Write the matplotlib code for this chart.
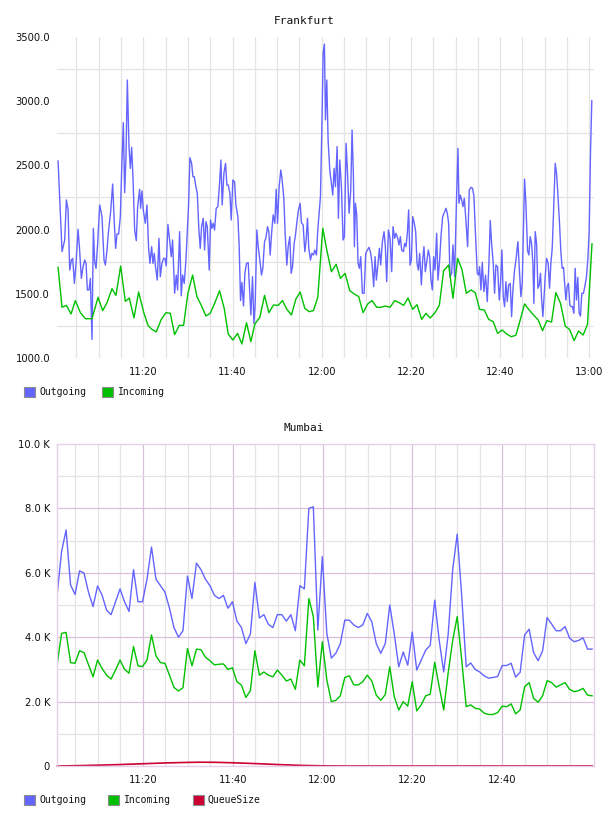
import numpy as np
import matplotlib
matplotlib.use("Agg")
import matplotlib.pyplot as plt
from matplotlib.patches import Rectangle

# Frankfurt: time in minutes after 11:00, values in bytes/s
fra_out_t = [0.89, 1.78, 2.38, 2.75, 3.13, 3.50, 3.87, 4.17, 4.55, 4.92, 5.37, 5.67, 6.11, 6.49,
             6.86, 7.16, 7.46, 7.83, 8.13, 8.50, 8.80, 9.10, 9.40, 9.77, 10.22, 10.74, 11.19,
             11.49, 11.86, 12.16, 12.68, 13.13, 13.50, 13.80, 14.10, 14.47, 14.85, 15.15, 15.52,
             15.82, 16.12, 16.42, 16.79, 17.09, 17.39, 17.68, 18.06, 18.43, 18.73, 19.18, 19.40,
             19.70, 20.00, 20.45, 20.82, 21.19, 21.49, 21.87, 22.16, 22.46, 22.69, 23.13, 23.51,
             23.81, 24.18, 24.55, 24.85, 25.15, 25.52, 25.90, 26.27, 26.57, 27.02, 27.39, 27.69,
             28.14, 28.51, 28.81, 29.18, 29.56, 30.15, 30.45, 30.83,
             31.13, 31.42, 31.80, 32.10, 32.47, 32.77, 33.07, 33.44, 33.74, 34.04, 34.34, 34.78,
             35.08, 35.38, 35.68, 35.98, 36.35, 36.72, 37.10, 37.40, 37.69, 38.07, 38.44, 38.74,
             39.04, 39.41, 39.71, 40.08, 40.46, 40.76, 41.20, 41.50, 41.80, 42.10, 42.47, 42.77,
             43.14, 43.52, 43.82, 44.12, 44.49, 44.79, 45.09, 45.46, 45.76, 46.13, 46.50, 46.80,
             47.18, 47.47, 47.85, 48.15, 48.44, 48.82, 49.12, 49.49, 49.79, 50.09, 50.46, 50.83,
             51.13, 51.51, 51.80, 52.18, 52.48, 52.85, 53.15, 53.45, 53.82, 54.12, 54.49, 54.79,
             55.16, 55.46, 55.84, 56.21, 56.51, 56.81, 57.10, 57.48, 57.78, 58.15, 58.45, 58.82,
             59.12, 59.42, 59.72, 60.02, 60.32, 60.61,
             60.84, 61.14, 61.43, 61.81, 62.18, 62.48, 62.78, 63.08, 63.45, 63.75, 64.05, 64.42,
             64.79, 65.09, 65.47, 65.76, 66.14, 66.51, 66.81, 67.11, 67.33, 67.56, 67.85, 68.15,
             68.45, 68.75, 69.12, 69.50, 69.87, 70.24, 70.62, 70.99, 71.29, 71.66, 71.96, 72.26,
             72.63, 72.93, 73.23, 73.60, 73.98, 74.27, 74.57, 74.95, 75.32, 75.69, 75.99, 76.36,
             76.66, 77.04, 77.34, 77.63, 77.93, 78.31, 78.60, 78.90, 79.20, 79.50, 79.80, 80.10,
             80.40, 80.69, 81.07, 81.37, 81.67, 81.96, 82.34, 82.64, 82.93, 83.23, 83.61, 83.90,
             84.20, 84.50, 84.80, 85.10, 85.40, 85.77, 86.07, 86.44, 86.74, 87.11, 87.49, 87.86,
             88.16, 88.46, 88.76, 89.13, 89.43, 89.80, 90.18, 90.55,
             90.77, 91.07, 91.37, 91.67, 91.97, 92.27, 92.71, 93.09, 93.46, 93.83, 94.13, 94.50,
             94.88, 95.18, 95.40, 95.70, 96.00, 96.37, 96.74, 97.12, 97.49, 97.79, 98.09, 98.46,
             98.76, 99.06, 99.43, 99.81, 100.10, 100.40, 100.70, 101.00, 101.30, 101.60, 101.90,
             102.27, 102.57, 102.87, 103.24, 103.61, 103.99, 104.28, 104.66, 104.96, 105.25,
             105.48, 105.78, 106.15, 106.45, 106.75, 107.05, 107.35, 107.57, 107.87, 108.17,
             108.47, 108.76, 109.06, 109.29, 109.59, 109.88, 110.11, 110.41, 110.78, 111.08,
             111.38, 111.68, 111.97, 112.35, 112.65, 112.94, 113.32, 113.62, 113.91, 114.21,
             114.51, 114.74, 115.03, 115.33, 115.63, 115.93, 116.23, 116.53, 116.83, 117.12,
             117.42, 117.72, 118.02, 118.32, 118.69, 118.99, 119.36, 119.66, 119.96, 120.26, 120.56]
fra_out = [2534, 1828, 1919, 2231, 2153, 1685, 1763, 1776, 1581, 1737, 2002, 1867, 1620, 1711,
           1763, 1737, 1530, 1530, 1620, 1145, 2010, 1750, 1698, 1893, 2192, 2101, 1763,
           1724, 1841, 1971, 2140, 2355, 2049, 1854, 1966, 1966, 2101, 2464, 2833,
           2288, 2568, 3165, 2646, 2477, 2641, 2412, 1997, 1914, 2179, 2314, 2166,
           2301, 2153, 2049, 2192, 1854, 1737, 1867, 1737, 1815, 1724, 1607, 1932,
           1633, 1737, 1776, 1776, 1717, 2041, 1919, 1789, 1919, 1504, 1646, 1530,
           1984, 1485, 1646, 1581, 1763, 2192, 2560, 2516,
           2412, 2412, 2334, 2282, 1997, 1854, 2023, 2088, 1841, 2062, 2023, 1685,
           2075, 2010, 2049, 1997, 2166, 2179, 2360, 2542, 2192, 2438, 2516, 2347,
           2347, 2282, 2075, 2386, 2373, 2192, 2101, 1867, 1447, 1589, 1405, 1659,
           1737, 1742, 1530, 1335, 1633, 1270, 1426, 1997, 1867, 1763, 1646, 1698,
           1906, 1932, 2023, 1984, 1802, 1997, 2114, 2049, 2314, 2049, 2334, 2464,
           2386, 2244, 1971, 1724, 1867, 1945, 1659, 1711, 1893, 1958, 2075, 2153,
           2205, 2054, 2036, 1828, 1919, 2088, 1854, 1763, 1815, 1802, 1841, 1802,
           1997, 2127, 2257, 2776, 3373, 3445,
           2854, 3165, 2698, 2464, 2360, 2269, 2477, 2334, 2646, 2088, 2542, 2334,
           1919, 1945, 2672, 2464, 2127, 2308, 2776, 2412, 1867, 2205, 2114, 1737,
           1698, 1789, 1504, 1504, 1815, 1841, 1862, 1815, 1737, 1556, 1789, 1607,
           1737, 1854, 1724, 1906, 1984, 1867, 1594, 1997, 1932, 1672, 2023, 1932,
           1971, 1932, 1880, 1945, 1841, 1828, 1893, 1867, 1971, 2153, 1724, 1763,
           2101, 2062, 1984, 1737, 1685, 1815, 1569, 1763, 1867, 1672, 1763, 1841,
           1789, 1607, 1530, 1789, 1685, 1971, 1607, 1763, 1945, 2101, 2132, 2166,
           2127, 2049, 1633, 1659, 1880, 1633, 2179, 2633,
           2205, 2269, 2231, 2179, 2244, 2101, 1867, 2308, 2329, 2321, 2257, 1945,
           1659, 1646, 1711, 1530, 1745, 1517, 1646, 1439, 1737, 2070, 1893, 1737,
           1504, 1724, 1711, 1452, 1581, 1841, 1478, 1400, 1594, 1439, 1568,
           1581, 1322, 1530, 1685, 1781, 1906, 1711, 1478, 1581, 2028,
           2394, 2205, 1836, 1802, 1945, 1893, 1737, 1426, 1984, 1893,
           1543, 1568, 1659, 1465, 1322, 1504, 1633, 1776, 1737, 1543,
           1737, 1854, 2127, 2516, 2438, 2282, 2049, 1828, 1698, 1706,
           1556, 1452, 1556, 1581, 1413, 1400, 1400, 1348, 1698, 1452,
           1628, 1348, 1327, 1504, 1504, 1556, 1633, 1763, 1984, 2594, 3004]

fra_in_t = [0.89, 1.78, 2.75, 3.80, 4.77, 5.89, 7.01, 8.50, 9.85, 10.89, 11.86, 12.98, 13.88,
            14.92, 15.97, 16.86, 17.91, 18.95, 20.07, 21.04, 21.94, 22.91, 24.03, 25.08, 26.05,
            27.02, 28.06, 29.03, 30.00, 31.05, 32.02, 33.07, 34.04, 35.01, 36.05, 37.10, 38.14,
            39.04, 40.08, 41.13, 42.10, 43.14, 44.12, 45.01, 46.13, 47.18, 48.15, 49.19, 50.24,
            51.21, 52.18, 53.22, 54.19, 55.16, 56.21, 57.18, 58.15, 59.12, 60.24, 61.14, 62.18,
            63.23, 64.20, 65.24, 66.29, 67.33, 68.30, 69.27, 70.32, 71.29, 72.33, 73.30, 74.27,
            75.32, 76.36, 77.34, 78.38, 79.35, 80.40, 81.37, 82.41, 83.38, 84.35, 85.40, 86.37,
            87.34, 88.46, 89.43, 90.47, 91.44, 92.41, 93.46, 94.43, 95.40, 96.45, 97.42, 98.46,
            99.43, 100.48, 101.45, 102.49, 103.54, 104.51, 105.48, 106.52, 107.49, 108.54,
            109.51, 110.48, 111.53, 112.50, 113.54, 114.59, 115.56, 116.60, 117.57, 118.62,
            119.59, 120.60]
fra_in = [1706, 1395, 1410, 1343, 1447, 1353, 1306, 1306, 1473, 1369, 1431, 1540, 1488,
          1716, 1441, 1467, 1312, 1514, 1358, 1254, 1223, 1203, 1301, 1353, 1348,
          1182, 1254, 1254, 1504, 1646, 1478, 1405, 1327, 1348, 1431, 1524, 1387,
          1187, 1140, 1192, 1109, 1275, 1127, 1265, 1317, 1488, 1353, 1413, 1410,
          1447, 1379, 1335, 1457, 1514, 1387, 1361, 1369, 1473, 2010, 1841, 1672,
          1730, 1620, 1659, 1524, 1498, 1478, 1353, 1421, 1447, 1395, 1395, 1405,
          1395, 1447, 1431, 1410, 1467, 1379, 1415, 1301, 1348, 1312, 1353, 1410,
          1680, 1724, 1465, 1776, 1690, 1504, 1530, 1509, 1379, 1374, 1301, 1283,
          1192, 1218, 1187, 1166, 1177, 1296, 1421, 1374, 1335, 1296,
          1213, 1291, 1280, 1509, 1426, 1249, 1223, 1135, 1210, 1179,
          1262, 1890]

# Mumbai: one sample per minute from 11:00:57, values in thousands
mum_start = 0.95
mum_out_k = [5.30, 6.66, 7.33, 5.62, 5.33, 6.06, 5.99, 5.39, 4.95, 5.59,
             5.31, 4.84, 4.70, 5.10, 5.50, 5.10, 4.80, 6.10, 5.10, 5.10,
             5.80, 6.80, 5.80, 5.60, 5.40, 4.90, 4.30, 4.00, 4.20, 5.90,
             5.20, 6.30, 6.10, 5.80, 5.60, 5.30, 5.20, 5.30, 4.90, 5.10,
             4.50, 4.30, 3.80, 4.10, 5.70, 4.60, 4.70, 4.40, 4.30, 4.70,
             4.70, 4.50, 4.70, 4.20, 5.60, 5.50, 8.00, 8.05, 4.22, 6.50,
             4.12, 3.35, 3.50, 3.80, 4.53, 4.53, 4.38, 4.30, 4.38, 4.74,
             4.48, 3.80, 3.50, 3.80, 5.00, 4.10, 3.08, 3.54, 3.13, 4.16,
             2.98, 3.29, 3.60, 3.75, 5.15, 3.90, 2.92, 4.10, 6.10, 7.20,
             5.30, 3.08, 3.20, 3.00, 2.92, 2.80, 2.73, 2.75, 2.78, 3.12,
             3.12, 3.19, 2.76, 2.91, 4.07, 4.25, 3.52, 3.27, 3.58, 4.61,
             4.41, 4.20, 4.20, 4.33, 3.97, 3.86, 3.90, 3.98, 3.63, 3.63]
mum_in_k = [3.14, 4.12, 4.15, 3.21, 3.19, 3.58, 3.52, 3.14, 2.77, 3.29,
            3.03, 2.82, 2.70, 2.98, 3.29, 3.01, 2.88, 3.71, 3.11, 3.09,
            3.29, 4.07, 3.42, 3.21, 3.19, 2.82, 2.44, 2.33, 2.43, 3.65,
            3.11, 3.63, 3.61, 3.38, 3.27, 3.14, 3.16, 3.17, 3.00, 3.05,
            2.62, 2.51, 2.13, 2.34, 3.58, 2.82, 2.92, 2.82, 2.77, 2.98,
            2.82, 2.64, 2.70, 2.38, 3.29, 3.11, 5.20, 4.64, 2.46, 3.86,
            2.67, 2.00, 2.04, 2.18, 2.75, 2.80, 2.52, 2.52, 2.62, 2.82,
            2.64, 2.20, 2.04, 2.22, 3.08, 2.15, 1.74, 2.00, 1.86, 2.62,
            1.71, 1.90, 2.18, 2.23, 3.22, 2.46, 1.74, 2.90, 3.90, 4.64,
            3.30, 1.84, 1.90, 1.79, 1.77, 1.64, 1.60, 1.60, 1.66, 1.86,
            1.84, 1.93, 1.62, 1.74, 2.46, 2.59, 2.10, 1.98, 2.18, 2.65,
            2.59, 2.45, 2.52, 2.59, 2.38, 2.31, 2.34, 2.41, 2.20, 2.18]
mum_queue_t = [1, 5, 10, 15, 20, 25, 30, 33, 36, 40, 45, 50, 55, 60, 65, 120]
mum_queue = [0, 10, 25, 45, 70, 95, 112, 118, 115, 100, 75, 45, 20, 5, 0, 0]

tick_min = [20, 40, 60, 80, 100, 120]
tick_lab = ['11:20', '11:40', '12:00', '12:20', '12:40', '13:00']

C_OUT = '#6464ff'
C_IN = '#00c000'
C_QUEUE = '#cc0033'
GRID = '#e4e4e4'
PINK = '#d9bfd9'

W, H = 608, 816


def box(l, t, r, b):
    """pixel box -> figure fraction rect"""
    return [l / W, 1 - b / H, (r - l) / W, (b - t) / H]


def legend(items, y):
    for x, tx, label, color in items:
        fig.add_artist(Rectangle((x / W, 1 - (y + 5) / H), 11 / W, 10 / H, transform=fig.transFigure,
                                 facecolor=color, edgecolor='#8c8c8c', lw=0.8))
        fig.text(tx / W, 1 - y / H, label, fontsize=7, family='DejaVu Sans Mono',
                 va='center', ha='left', color='#111')


def style(ax):
    for s in ax.spines.values():
        s.set_visible(False)
    ax.tick_params(length=0, labelsize=7.2, labelcolor='#111')
    ax.tick_params(axis='y', pad=5)
    ax.tick_params(axis='x', pad=6.5)


fig = plt.figure(figsize=(W / 100, H / 100), dpi=100)

# Frankfurt
ax1 = fig.add_axes(box(57, 37, 594, 358))
style(ax1)
for m in range(5, 121, 5):
    ax1.axvline(m, color=GRID, lw=0.9, zorder=0)
for v in [1250, 1750, 2250, 2750, 3250]:
    ax1.axhline(v, color=GRID, lw=0.9, zorder=0)
ax1.plot(fra_out_t, fra_out, color=C_OUT, lw=1.0)
ax1.plot(fra_in_t, fra_in, color=C_IN, lw=1.0)
ax1.set_xlim(0.65, 121.05)
ax1.set_ylim(1000, 3500)
ax1.set_xticks(tick_min, tick_lab)
yt = [1000, 1500, 2000, 2500, 3000, 3500]
ax1.set_yticks(yt, ['%.1f' % v for v in yt])
fig.text(304 / W, 1 - 21 / H, 'Frankfurt', fontsize=8, family='DejaVu Sans Mono',
         ha='center', va='center', color='#111')
legend([(24, 39, 'Outgoing', C_OUT), (102, 118, 'Incoming', C_IN)], 392)

# Mumbai
ax2 = fig.add_axes(box(57, 444, 594, 766))
style(ax2)
for s in ax2.spines.values():
    s.set_visible(True)
    s.set_color('#e4d0e8')
    s.set_linewidth(1.0)
for m in range(5, 120, 5):
    ax2.axvline(m, color=PINK if m % 20 == 0 else GRID, lw=0.9, zorder=0)
for v in range(1000, 10000, 1000):
    ax2.axhline(v, color=PINK if v % 2000 == 0 else GRID, lw=0.9, zorder=0)
mum_t = mum_start + np.arange(len(mum_out_k))
ax2.plot(mum_t, np.array(mum_out_k) * 1000, color=C_OUT, lw=1.0)
ax2.plot(mum_t, np.array(mum_in_k) * 1000, color=C_IN, lw=1.0)
ax2.plot(mum_queue_t, mum_queue, color=C_QUEUE, lw=1.2, clip_on=False)
ax2.set_xlim(0.93, 120.38)
ax2.set_ylim(0, 10000)
ax2.set_xticks(tick_min[:-1], tick_lab[:-1])
yt2 = list(range(0, 10001, 2000))
ax2.set_yticks(yt2, ['0' if v == 0 else '%.1f K' % (v / 1000) for v in yt2])
fig.text(304 / W, 1 - 428 / H, 'Mumbai', fontsize=8, family='DejaVu Sans Mono',
         ha='center', va='center', color='#111')
legend([(24, 39, 'Outgoing', C_OUT), (108, 124, 'Incoming', C_IN),
        (193, 207, 'QueueSize', C_QUEUE)], 800)

fig.savefig('out.png', dpi=100, facecolor='white')
